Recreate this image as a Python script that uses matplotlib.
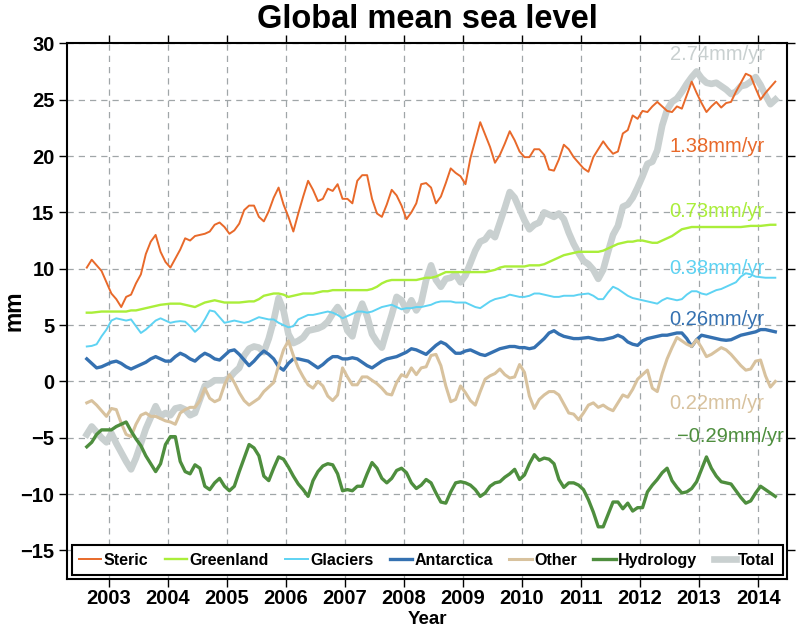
import numpy as np
import matplotlib
matplotlib.use("Agg")
import matplotlib.pyplot as plt

plt.rcParams['font.family'] = ['Liberation Sans', 'DejaVu Sans']

# monthly samples, Aug 2002 .. Apr 2014
t = 2002.625 + np.arange(141) / 12.0

steric = [10.1, 10.8, 10.3, 9.8, 8.8, 7.8, 7.3, 6.6, 7.5, 7.7, 8.7, 9.5, 11.3, 12.4, 13.0, 11.5, 10.6, 10.1, 10.9, 11.7,
          12.7, 12.5, 12.9, 13.0, 13.1, 13.3, 13.9, 14.1, 13.7, 13.1, 13.4, 14.0, 15.2, 15.6, 15.6, 14.6, 14.2, 15.1, 16.3, 17.2,
          15.7, 14.6, 13.3, 14.9, 16.4, 17.8, 17.0, 16.0, 16.2, 17.1, 16.9, 17.5, 16.2, 16.2, 15.8, 17.8, 18.3, 18.3, 16.2, 14.9,
          14.6, 15.7, 17.0, 16.5, 15.6, 14.4, 15.0, 15.8, 17.5, 17.6, 17.2, 15.8, 16.4, 17.6, 18.9, 18.5, 18.2, 17.5, 19.8, 21.4,
          23.0, 21.9, 20.8, 19.4, 20.1, 21.1, 22.2, 21.4, 20.4, 19.9, 19.9, 20.6, 20.6, 20.1, 18.8, 18.7, 19.7, 21.0, 20.6, 19.9,
          19.4, 18.9, 18.6, 19.9, 20.6, 21.3, 20.7, 20.2, 20.4, 22.0, 22.3, 23.6, 23.3, 24.0, 23.9, 24.4, 24.8, 24.4, 24.0, 23.9,
          24.4, 24.2, 25.4, 26.6, 25.6, 24.7, 23.9, 24.4, 24.8, 24.3, 24.7, 24.8, 25.7, 26.5, 27.3, 27.1, 26.0, 25.0, 25.6, 26.1,
          26.6]

greenland = [6.1, 6.1, 6.15, 6.2, 6.2, 6.2, 6.2, 6.2, 6.2, 6.3, 6.3, 6.4, 6.5, 6.6, 6.7, 6.8, 6.85, 6.9, 6.9, 6.9,
             6.8, 6.7, 6.6, 6.8, 7.0, 7.1, 7.2, 7.1, 7.0, 7.0, 7.0, 7.0, 7.05, 7.1, 7.1, 7.3, 7.6, 7.7, 7.8, 7.8,
             7.7, 7.5, 7.6, 7.7, 7.8, 7.8, 7.8, 7.9, 8.0, 8.0, 8.1, 8.1, 8.1, 8.1, 8.1, 8.1, 8.1, 8.1, 8.2, 8.4,
             8.7, 8.9, 9.0, 9.0, 9.0, 9.0, 9.0, 9.0, 9.1, 9.2, 9.2, 9.3, 9.5, 9.7, 9.7, 9.7, 9.7, 9.7, 9.7, 9.7,
             9.7, 9.7, 9.8, 9.9, 10.1, 10.2, 10.2, 10.2, 10.2, 10.2, 10.3, 10.3, 10.3, 10.4, 10.6, 10.8, 11.0, 11.2, 11.3, 11.4,
             11.5, 11.5, 11.5, 11.5, 11.5, 11.6, 11.8, 12.0, 12.2, 12.3, 12.4, 12.4, 12.5, 12.5, 12.4, 12.3, 12.3, 12.5, 12.7, 12.9,
             13.2, 13.5, 13.6, 13.7, 13.7, 13.7, 13.7, 13.7, 13.7, 13.7, 13.7, 13.7, 13.7, 13.7, 13.75, 13.8, 13.8, 13.8, 13.85, 13.9,
             13.9]

glaciers = [3.1, 3.15, 3.3, 4.0, 4.6, 5.4, 5.6, 5.5, 5.4, 5.5, 4.9, 4.3, 4.6, 5.0, 5.4, 5.6, 5.4, 5.2, 5.3, 5.35,
            5.3, 4.9, 4.4, 4.8, 5.5, 6.3, 6.2, 5.7, 5.2, 5.3, 5.4, 5.3, 5.2, 5.3, 5.5, 5.7, 5.6, 5.5, 5.5, 5.2,
            5.0, 4.8, 4.9, 5.5, 5.7, 5.9, 5.9, 6.0, 6.1, 6.2, 6.1, 5.9, 5.6, 5.8, 6.0, 6.2, 6.2, 6.1, 6.2, 6.4,
            6.6, 6.7, 6.8, 6.6, 6.4, 6.5, 6.5, 6.6, 6.6, 6.7, 6.8, 7.0, 7.1, 7.1, 7.1, 7.0, 7.0, 7.0, 6.8, 6.6,
            6.5, 6.8, 7.1, 7.3, 7.4, 7.5, 7.7, 7.6, 7.5, 7.5, 7.6, 7.8, 7.8, 7.7, 7.6, 7.5, 7.5, 7.6, 7.6, 7.6,
            7.7, 7.75, 7.8, 7.6, 7.3, 7.3, 7.9, 8.4, 8.2, 7.9, 7.6, 7.4, 7.3, 7.2, 7.1, 7.0, 6.9, 7.2, 7.4, 7.3,
            7.2, 7.3, 7.7, 8.0, 8.0, 7.8, 7.7, 7.9, 8.1, 8.2, 8.4, 8.6, 8.8, 9.3, 9.6, 9.5, 9.3, 9.25, 9.2, 9.2,
            9.2]

antarctica = [2.0, 1.6, 1.2, 1.3, 1.5, 1.7, 1.8, 1.6, 1.3, 1.1, 1.3, 1.5, 1.7, 2.0, 2.2, 2.0, 1.8, 1.8, 2.2, 2.5,
              2.3, 2.0, 1.8, 2.2, 2.5, 2.3, 2.0, 1.9, 2.3, 2.7, 2.8, 2.4, 1.9, 1.4, 1.8, 2.3, 2.7, 2.4, 2.0, 1.3,
              1.0, 1.6, 2.0, 2.0, 1.9, 1.8, 1.5, 1.2, 1.5, 1.9, 2.2, 2.2, 2.0, 2.0, 2.1, 2.0, 1.7, 1.4, 1.2, 1.5,
              1.8, 2.0, 2.1, 2.2, 2.4, 2.6, 2.9, 2.8, 2.6, 2.4, 2.8, 3.2, 3.5, 3.3, 2.9, 2.5, 2.5, 2.7, 2.8, 2.6,
              2.4, 2.3, 2.5, 2.7, 2.9, 3.0, 3.1, 3.1, 3.0, 3.0, 2.9, 3.0, 3.4, 3.8, 4.3, 4.5, 4.2, 4.0, 3.9, 3.8,
              3.8, 3.85, 3.9, 3.8, 3.7, 3.7, 3.8, 3.9, 4.1, 3.9, 3.5, 3.3, 3.2, 3.6, 3.8, 3.9, 4.0, 4.1, 4.1, 4.2,
              4.3, 4.3, 3.8, 3.1, 3.7, 4.1, 4.0, 3.9, 3.8, 3.7, 3.65, 3.7, 3.9, 4.1, 4.2, 4.3, 4.4, 4.6, 4.6, 4.5,
              4.4]

other = [-1.9, -1.7, -2.1, -2.6, -3.1, -2.4, -2.5, -3.7, -4.7, -4.9, -3.8, -3.0, -2.8, -3.1, -3.1, -3.3, -3.5, -3.6, -3.8, -2.8,
         -2.5, -2.3, -2.3, -1.7, -0.6, -1.5, -1.8, -1.6, -0.3, 0.6, -0.1, -1.0, -1.7, -2.1, -1.8, -1.5, -0.9, -0.5, -0.1, 1.4,
         2.8, 3.6, 2.3, 1.2, 0.4, -0.3, -0.6, 0.0, -0.4, -1.3, -1.7, -1.2, 1.2, 0.4, -0.3, -0.3, 0.4, 0.4, 0.1, -0.2,
         -0.6, -1.1, -1.2, -0.1, 0.6, 0.4, 1.2, 0.6, 1.2, 1.3, 2.3, 2.4, 1.4, -0.4, -1.8, -1.6, -0.4, -1.0, -1.7, -2.1,
         -0.9, 0.2, 0.5, 0.7, 1.1, 0.6, 0.3, 0.4, 1.5, 0.8, -1.3, -2.4, -1.6, -1.2, -0.9, -0.9, -1.2, -2.0, -2.8, -2.9,
         -3.4, -2.8, -2.1, -1.9, -2.3, -2.1, -2.4, -2.6, -1.9, -1.2, -1.4, -0.7, 0.2, 0.6, 1.0, -0.6, -0.9, 0.7, 2.0, 3.0,
         3.9, 3.6, 3.3, 3.1, 3.7, 3.0, 2.2, 2.4, 2.7, 3.0, 2.8, 2.4, 1.9, 1.4, 1.0, 1.1, 1.8, 1.9, 0.5, -0.5,
         0.0]

hydrology = [-5.8, -5.4, -4.7, -4.3, -4.3, -4.3, -4.0, -3.8, -3.6, -4.4, -5.1, -5.7, -6.6, -7.3, -8.0, -7.3, -5.6, -4.9, -4.9, -7.1,
             -8.0, -8.2, -7.4, -7.7, -9.3, -9.6, -9.0, -8.6, -9.3, -9.7, -9.3, -8.0, -6.8, -5.6, -5.9, -6.6, -8.4, -8.8, -7.7, -6.7,
             -6.9, -7.6, -8.4, -9.1, -9.6, -10.2, -8.8, -8.0, -7.5, -7.3, -7.4, -8.2, -9.7, -9.6, -9.7, -9.3, -9.3, -8.2, -7.2, -7.7,
             -8.6, -9.0, -8.6, -7.9, -7.7, -8.1, -9.0, -9.5, -9.2, -8.7, -9.0, -9.9, -10.7, -10.8, -9.8, -9.0, -8.9, -9.0, -9.2, -9.6,
             -10.2, -9.9, -9.3, -9.0, -8.9, -8.5, -8.2, -7.8, -8.7, -8.3, -7.3, -6.5, -7.0, -6.8, -6.9, -7.3, -8.7, -9.4, -9.0, -9.0,
             -9.2, -9.6, -10.5, -11.6, -12.9, -12.9, -11.8, -10.7, -10.7, -11.3, -10.8, -11.5, -11.2, -11.2, -9.8, -9.2, -8.7, -8.1, -7.7, -8.8,
             -9.4, -9.9, -9.8, -9.5, -8.9, -7.8, -6.7, -7.7, -8.4, -8.9, -9.0, -9.1, -9.7, -10.3, -10.8, -10.6, -9.9, -9.3, -9.6, -9.9,
             -10.2]

total = [-4.7, -4.0, -4.5, -5.0, -5.4, -4.6, -5.5, -6.3, -7.1, -7.8, -6.8, -5.5, -4.2, -3.2, -2.2, -3.1, -2.8, -3.0, -2.4, -2.3,
         -2.5, -3.0, -2.8, -1.6, -0.4, -0.2, 0.1, 0.1, 0.1, 0.3, 0.8, 1.2, 2.3, 2.9, 3.1, 3.0, 2.6, 3.8, 5.4, 7.4,
         6.3, 4.2, 3.4, 3.6, 3.9, 4.5, 4.6, 4.7, 4.9, 5.3, 6.0, 6.6, 5.9, 4.5, 4.0, 5.8, 6.9, 5.8, 4.2, 3.5,
         3.0, 4.5, 5.9, 7.5, 7.2, 6.3, 7.2, 6.3, 7.0, 9.0, 10.3, 9.0, 8.4, 9.1, 9.2, 9.5, 8.8, 9.4, 10.5, 11.6,
         12.4, 12.6, 13.2, 12.8, 14.1, 15.4, 16.8, 16.3, 15.3, 14.3, 13.5, 13.9, 14.1, 15.0, 14.8, 14.6, 14.9, 14.4, 13.2, 12.2,
         11.4, 10.7, 10.4, 9.9, 9.1, 9.9, 11.5, 13.0, 13.8, 15.5, 15.7, 16.3, 17.2, 18.2, 19.3, 19.5, 20.5, 22.7, 24.1, 24.8,
         25.1, 25.7, 26.4, 27.0, 27.5, 26.9, 26.5, 26.4, 26.5, 26.2, 25.9, 25.5, 25.7, 26.2, 26.3, 26.6, 27.0, 26.3, 25.4, 24.6,
         25.0]

# trend labels and their heights (mm)
trend_labels = ['2.74mm/yr', '1.38mm/yr', '0.73mm/yr', '0.38mm/yr', '0.26mm/yr', '0.22mm/yr', '\u22120.29mm/yr']
trend_y = [29.0, 20.8, 15.1, 10.0, 5.45, -2.0, -4.9]

c_steric = '#e8692a'
c_green = '#aaee3a'
c_glac = '#5ed3f3'
c_ant = '#3571b1'
c_other = '#d8c29e'
c_hydro = '#4e8e3e'
c_total = '#c9d0d0'
trend_colors = [c_total, c_steric, c_green, c_glac, c_ant, c_other, c_hydro]

fig = plt.figure(figsize=(7.96, 6.33), dpi=100)
ax = fig.add_axes([0.0842, 0.0853, 0.9045, 0.8463])

ax.plot(t, total, color=c_total, lw=4.8, label='Total', zorder=2)
ax.plot(t, steric, color=c_steric, lw=1.4, label='Steric', zorder=3)
ax.plot(t, greenland, color=c_green, lw=1.7, label='Greenland', zorder=3)
ax.plot(t, glaciers, color=c_glac, lw=1.4, label='Glaciers', zorder=3)
ax.plot(t, antarctica, color=c_ant, lw=2.4, label='Antarctica', zorder=3)
ax.plot(t, other, color=c_other, lw=2.2, label='Other', zorder=3)
ax.plot(t, hydrology, color=c_hydro, lw=2.4, label='Hydrology', zorder=3)

for lab, yy, cc in zip(trend_labels, trend_y, trend_colors):
    xx = 2012.62 if lab.startswith('\u2212') else 2012.5
    ax.text(xx, yy, lab, color=cc, fontsize=14.5, ha='left', va='center', zorder=4)

ax.set_xlim(2002.29, 2014.49)
ax.set_ylim(-17.53, 30)
ax.set_xticks(range(2003, 2015))
ax.set_yticks(range(-15, 31, 5))
ax.grid(True, linestyle=(0, (5, 4)), color='#a0a6a8', linewidth=0.9)
ax.set_axisbelow(True)
ax.tick_params(direction='out', length=5.5, width=1, top=True, right=True)
ax.tick_params(axis='x', labelsize=14.5, pad=1.5)
ax.tick_params(axis='y', labelsize=14.5)
for lab in ax.get_xticklabels() + ax.get_yticklabels():
    lab.set_fontweight('bold')
for sp in ax.spines.values():
    sp.set_linewidth(1.5)

ax.set_title('Global mean sea level', fontsize=23.5, fontweight='bold', pad=11)
ax.set_xlabel('Year', fontsize=13.5, fontweight='bold')
ax.xaxis.set_label_coords(0.5, -0.0605)
ax.set_ylabel('mm', fontsize=16.5, fontweight='bold')
ax.yaxis.set_label_coords(-0.057, 0.5)

h, l = ax.get_legend_handles_labels()
order = [1, 2, 3, 4, 5, 6, 0]
leg = ax.legend([h[i] for i in order], [l[i] for i in order], ncol=7, mode='expand',
                loc='lower left', bbox_to_anchor=(0.0065, 0.008, 0.9875, 0.06),
                fancybox=False, framealpha=1, edgecolor='black', handlelength=1.4,
                handletextpad=0.15, borderpad=0.45, borderaxespad=0,
                prop={'weight': 'bold', 'size': 11.5})
leg.get_frame().set_linewidth(1.5)
leg.set_zorder(5)

fig.savefig('out.png', dpi=100)
